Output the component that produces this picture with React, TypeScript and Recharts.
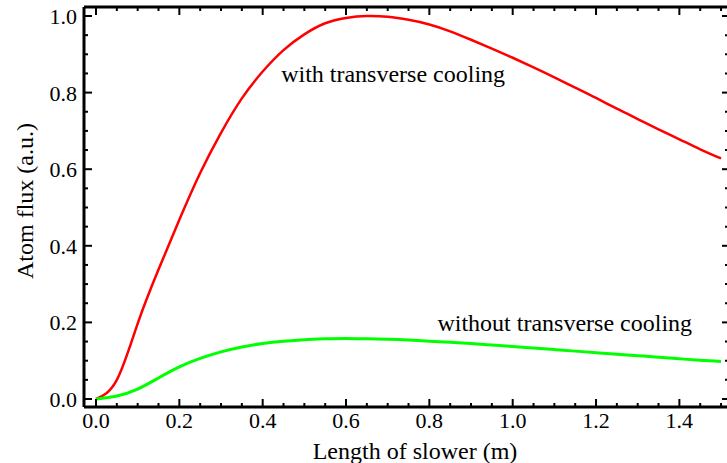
import { Label, Line, LineChart, ReferenceDot, XAxis, YAxis } from "recharts";

// slower length (m) and normalised atom flux
const lengths = [0, 0.05, 0.1, 0.15, 0.2, 0.25, 0.3, 0.35, 0.4, 0.45, 0.5, 0.55, 0.6, 0.65, 0.7, 0.75, 0.8, 0.85, 0.9, 0.95, 1.0, 1.05, 1.1, 1.15, 1.2, 1.25, 1.3, 1.35, 1.4, 1.45, 1.5];
const withCooling = [0, 0.05, 0.197, 0.338, 0.468, 0.59, 0.695, 0.785, 0.855, 0.911, 0.952, 0.981, 0.995, 1.0, 0.998, 0.99, 0.978, 0.96, 0.938, 0.915, 0.891, 0.866, 0.84, 0.813, 0.786, 0.758, 0.731, 0.704, 0.678, 0.652, 0.628];
const withoutCooling = [0, 0.008, 0.026, 0.055, 0.084, 0.106, 0.123, 0.136, 0.145, 0.151, 0.155, 0.157, 0.158, 0.157, 0.156, 0.154, 0.151, 0.148, 0.145, 0.141, 0.137, 0.133, 0.129, 0.125, 0.121, 0.117, 0.113, 0.109, 0.105, 0.101, 0.098];

// every 0.05 gets a tick, every 0.2 a long one with a label
const xTicks = [0, 0.05, 0.1, 0.15, 0.2, 0.25, 0.3, 0.35, 0.4, 0.45, 0.5, 0.55, 0.6, 0.65, 0.7, 0.75, 0.8, 0.85, 0.9, 0.95, 1.0, 1.05, 1.1, 1.15, 1.2, 1.25, 1.3, 1.35, 1.4, 1.45, 1.5];
const yTicks = [0, 0.05, 0.1, 0.15, 0.2, 0.25, 0.3, 0.35, 0.4, 0.45, 0.5, 0.55, 0.6, 0.65, 0.7, 0.75, 0.8, 0.85, 0.9, 0.95, 1.0];

const xDomain = [-0.0288, 1.5167];
const yDomain = [-0.0209, 1.0235];

const labelWith = { x: 0.713, y: 0.851, text: "with transverse cooling" };
const labelWithout = { x: 1.125, y: 0.2005, text: "without transverse cooling" };

const font = "'Liberation Serif', 'Times New Roman', serif";
const frame = { stroke: "#000", strokeWidth: 3 };

const isMajor = (v: number) => Math.abs(v * 5 - Math.round(v * 5)) < 1e-6;

type Side = "bottom" | "top" | "left" | "right";

function frameTick(side: Side) {
  return (props: any) => {
    const { x, y, payload } = props;
    const v = Number(payload.value);
    const major = isMajor(v);
    const len = side === "right" ? (major ? 6 : 3) : major ? 8 : 4;
    let x2 = x;
    let y2 = y;
    if (side === "bottom") y2 = y - len;
    if (side === "top") y2 = y + len;
    if (side === "left") x2 = x + len;
    if (side === "right") x2 = x - len;
    return (
      <g>
        <line x1={x} y1={y} x2={x2} y2={y2} stroke="#000" strokeWidth={2} />
        {major && side === "bottom" && (
          <text x={x} y={y + 21} textAnchor="middle" fill="#000" fontSize={22} fontFamily={font}>
            {v.toFixed(1)}
          </text>
        )}
        {major && side === "left" && (
          <text x={x - 7} y={y + 8} textAnchor="end" fill="#000" fontSize={22} fontFamily={font}>
            {v.toFixed(1)}
          </text>
        )}
      </g>
    );
  };
}

const data = lengths.map((x, i) => ({ x, with: withCooling[i], without: withoutCooling[i] }));

export default function App() {
  return (
    <div style={{ position: "absolute", left: 0, top: 0, width: 727, height: 463, overflow: "hidden", background: "#fff" }}>
      <LineChart width={729} height={463} data={data} margin={{ top: 0, right: 0, left: 0, bottom: 0 }}>
        <XAxis xAxisId="top" orientation="top" type="number" dataKey="x" domain={xDomain} allowDataOverflow ticks={xTicks} interval={0} height={7} tickSize={0} tickMargin={0} tick={frameTick("top")} tickLine={false} axisLine={frame} />
        <XAxis xAxisId="main" type="number" dataKey="x" domain={xDomain} allowDataOverflow ticks={xTicks} interval={0} height={56} tickSize={0} tickMargin={0} tick={frameTick("bottom")} tickLine={false} axisLine={frame}>
          <Label
            content={() => (
              <text x={415} y={459} textAnchor="middle" fill="#000" fontSize={24} fontFamily={font}>
                Length of slower (m)
              </text>
            )}
          />
        </XAxis>
        <YAxis yAxisId="right" orientation="right" type="number" domain={yDomain} allowDataOverflow ticks={yTicks} interval={0} width={1} tickSize={0} tickMargin={0} tick={frameTick("right")} tickLine={false} axisLine={false} />
        <YAxis yAxisId="main" type="number" domain={yDomain} allowDataOverflow ticks={yTicks} interval={0} width={84} tickSize={0} tickMargin={0} tick={frameTick("left")} tickLine={false} axisLine={frame}>
          <Label
            content={() => (
              <text x={33} y={201} transform="rotate(-90 33 201)" textAnchor="middle" fill="#000" fontSize={24} fontFamily={font}>
                Atom flux (a.u.)
              </text>
            )}
          />
        </YAxis>

        <Line xAxisId="main" yAxisId="main" type="natural" dataKey="with" stroke="#ff0000" strokeWidth={2.5} dot={false} isAnimationActive={false} />
        <Line xAxisId="main" yAxisId="main" type="natural" dataKey="without" stroke="#00ff00" strokeWidth={3} dot={false} isAnimationActive={false} />

        <ReferenceDot xAxisId="main" yAxisId="main" x={labelWith.x} y={labelWith.y} r={0} fill="none" stroke="none" label={{ value: labelWith.text, position: "center", fill: "#000", fontSize: 24, fontFamily: font }} />
        <ReferenceDot xAxisId="main" yAxisId="main" x={labelWithout.x} y={labelWithout.y} r={0} fill="none" stroke="none" label={{ value: labelWithout.text, position: "center", fill: "#000", fontSize: 24, fontFamily: font }} />
      </LineChart>
    </div>
  );
}
